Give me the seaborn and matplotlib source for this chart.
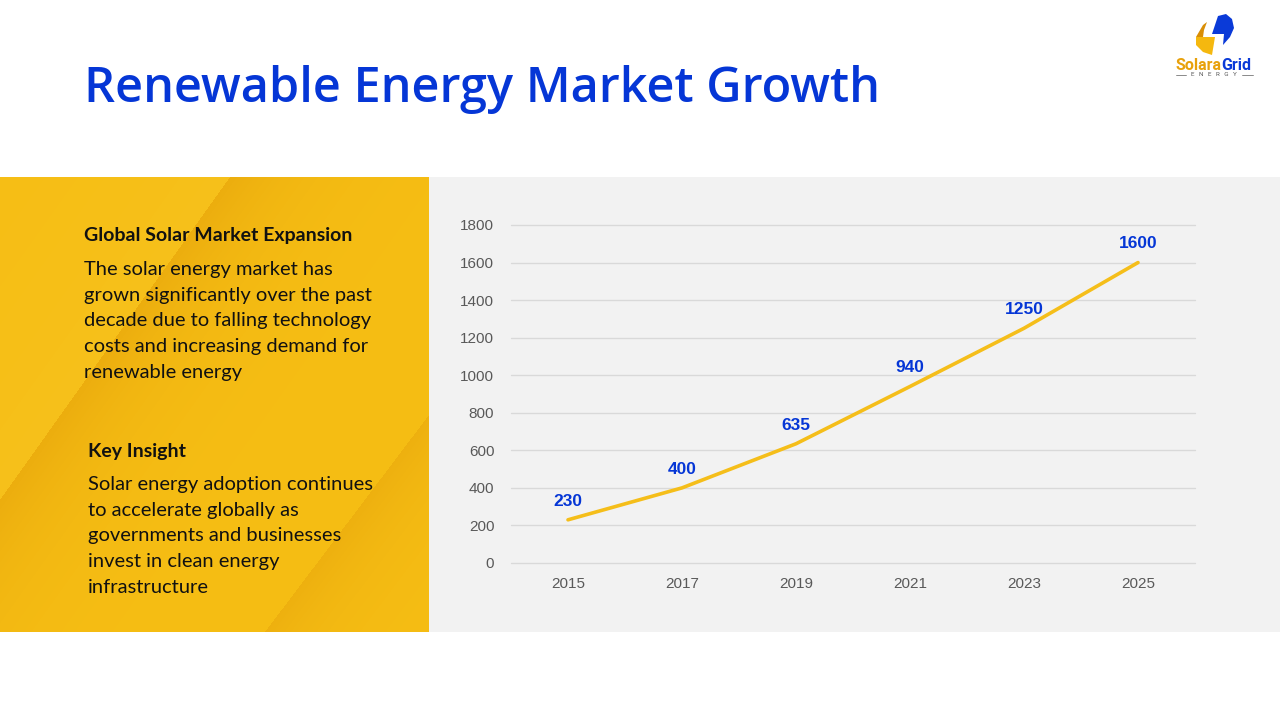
import matplotlib
matplotlib.use("Agg")
import matplotlib.pyplot as plt
import matplotlib.patches as mpatches
import seaborn as sns
import pandas as pd
import numpy as np

# ---- data ----
years = ["2015", "2017", "2019", "2021", "2023", "2025"]
market_values = [230, 400, 635, 940, 1250, 1600]
y_ticks = [0, 200, 400, 600, 800, 1000, 1200, 1400, 1600, 1800]

title_text = "Renewable Energy Market Growth"
heading1 = "Global Solar Market Expansion"
body1 = ("The solar energy market has\ngrown significantly over the past\n"
         "decade due to falling technology\ncosts and increasing demand for\nrenewable energy")
heading2 = "Key Insight"
body2 = ("Solar energy adoption continues\nto accelerate globally as\n"
         "governments and businesses\ninvest in clean energy\ninfrastructure")

BLUE = "#0536D6"
YELLOW = "#F6BE14"
GRAY_BG = "#F2F2F2"

sns.set_theme(style="white")
plt.rcParams['font.family'] = ['Lato', 'DejaVu Sans']

W, H = 1280, 720
fig = plt.figure(figsize=(12.8, 7.2), dpi=100)
fig.patch.set_facecolor("white")

bg = fig.add_axes([0, 0, 1, 1])
bg.set_xlim(0, W)
bg.set_ylim(H, 0)
bg.axis("off")
bg.set_zorder(0)

# yellow panel with soft diagonal shading (raster background)
px0, px1, py0, py1 = 0, 429, 177, 632
xx, yy = np.meshgrid(np.arange(px0, px1) + 0.5, np.arange(py0, py1) + 0.5)
base = np.array([246, 190, 20], float) / 255
dark = np.array([228, 160, 10], float) / 255
light = np.array([248, 198, 40], float) / 255

def signed_dist(x0, y0, x1, y1):
    dx, dy = x1 - x0, y1 - y0
    n = np.hypot(dx, dy)
    return ((xx - x0) * dy - (yy - y0) * dx) / n

d1 = signed_dist(230, 177, 0, 500)
d2 = signed_dist(429, 415, 265, 632)
shade = np.where(d1 > 0, 0.55 * np.exp(-d1 / 60.0), 0.0)
shade += np.where(d2 > 0, 0.45 * np.exp(-d2 / 50.0), 0.0)
lift = np.where(d1 < 0, 0.35 * np.exp(d1 / 120.0), 0.0)
img = base[None, None, :] * np.ones(xx.shape)[..., None]
img = img + shade[..., None] * (dark - base) + lift[..., None] * (light - base)
img = np.clip(img, 0, 1)
bg.imshow(img, extent=(px0, px1, py1, py0), interpolation="bilinear", zorder=0.5)

bg.add_patch(mpatches.Rectangle((429, 177), 851, 455, color=GRAY_BG, lw=0, zorder=0.5))
bg.set_xlim(0, W)
bg.set_ylim(H, 0)

# title
bg.text(84, 102, title_text, color=BLUE, fontsize=35, fontweight="semibold",
        family=["Open Sans", "DejaVu Sans"], va="baseline", ha="left")

# left texts
txt_kw = dict(color="#111111", ha="left", family=["Lato", "DejaVu Sans"])
bg.text(84, 236, heading1, fontsize=14, fontweight="bold", va="center", **txt_kw)
bg.text(84, 261, body1, fontsize=14.5, va="top", linespacing=1.62, **txt_kw)
bg.text(88, 451, heading2, fontsize=14, fontweight="bold", va="center", **txt_kw)
bg.text(88, 476, body2, fontsize=14.5, va="top", linespacing=1.62, **txt_kw)

# logo
bg.add_patch(mpatches.Polygon([(1196, 37), (1215, 37), (1212, 55), (1203, 52), (1196, 45)],
                              closed=True, facecolor="#F5B80F", lw=0))
bg.add_patch(mpatches.Polygon([(1196, 37), (1203, 25), (1207, 22), (1204, 30), (1203, 37)],
                              closed=True, facecolor="#D98E06", lw=0))
bg.add_patch(mpatches.Polygon([(1212, 34), (1218, 16), (1226, 14), (1232, 19), (1234, 28),
                               (1230, 37), (1223, 45), (1224, 34)],
                              closed=True, facecolor="#0A3AD8", lw=0))
bg.text(1222, 65, "Solara", color="#E8A10C", fontsize=11.5, fontweight="bold",
        ha="right", va="center", family=["Roboto", "DejaVu Sans"])
bg.text(1221, 65, "Grid", color="#0A3AD8", fontsize=11.5, fontweight="bold",
        ha="left", va="center", family=["Roboto", "DejaVu Sans"])
bg.text(1214, 75, "E   N   E   R   G   Y", color="#555555", fontsize=4.5,
        ha="center", va="center", family=["Roboto", "DejaVu Sans"])
bg.plot([1176, 1186], [75, 75], color="#777777", lw=0.6)
bg.plot([1242, 1253], [75, 75], color="#777777", lw=0.6)

# chart axes
left, right, top, bottom = 511, 1195, 225, 563
ax = fig.add_axes([left / W, (H - bottom) / H, (right - left) / W, (bottom - top) / H])
ax.set_zorder(1)
ax.patch.set_alpha(0)

df = pd.DataFrame({"year": years, "value": market_values})
sns.lineplot(data=df, x="year", y="value", ax=ax, color="#F5BE1A", linewidth=2.6,
             sort=False)

ax.set_xlim(-0.5, len(years) - 0.5)
ax.set_ylim(0, 1800)
ax.set_yticks(y_ticks)
ax.set_yticklabels([str(t) for t in y_ticks])
ax.grid(axis="y", color="#D9D9D9", linewidth=1)
ax.grid(axis="x", visible=False)
for gl in ax.get_ygridlines():
    gl.set_clip_on(False)
for s in ax.spines.values():
    s.set_visible(False)
ax.set_xlabel("")
ax.set_ylabel("")
ax.tick_params(axis="both", length=0, labelsize=11, labelcolor="#595959")
ax.tick_params(axis="y", pad=12)
ax.tick_params(axis="x", pad=10)
for lbl in ax.get_xticklabels() + ax.get_yticklabels():
    lbl.set_family(["Liberation Sans", "DejaVu Sans"])

for i, v in enumerate(market_values):
    ax.annotate(str(v), (i, v), xytext=(0, 13.5), textcoords="offset points",
                ha="center", va="center", color=BLUE, fontsize=12.5,
                fontweight="bold", family=["Liberation Sans", "DejaVu Sans"])

fig.savefig("out.png", dpi=100, facecolor="white")
